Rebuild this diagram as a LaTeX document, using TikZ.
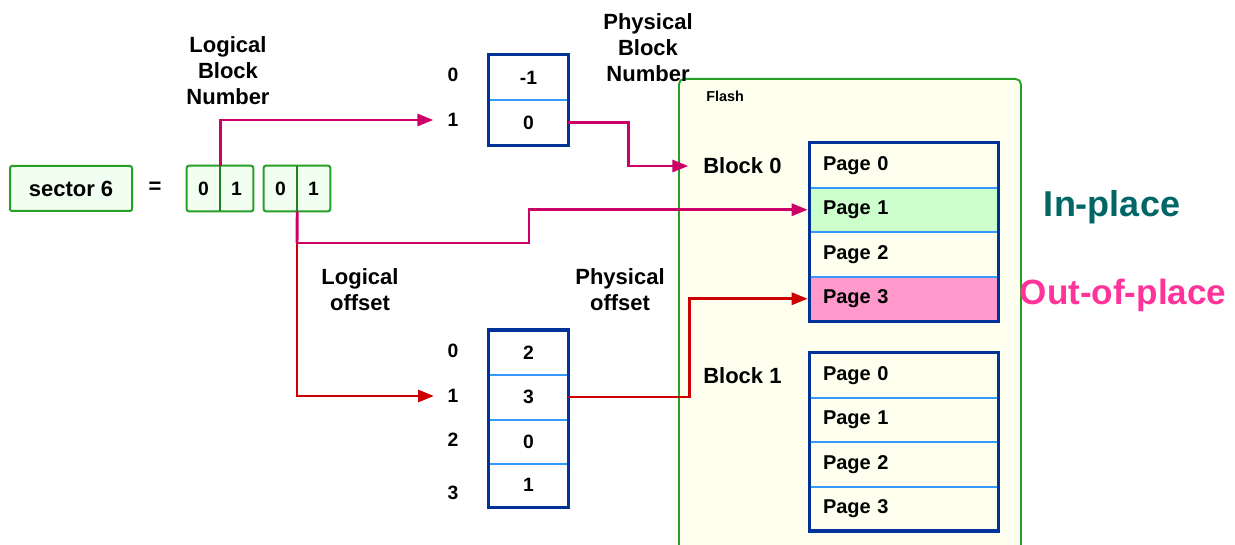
\documentclass[tikz,border=0pt]{standalone}
\usepackage{fontspec}
\setmainfont{Liberation Sans}
\usetikzlibrary{arrows.meta,calc}
\definecolor{boxgreen}{RGB}{40,160,40}
\definecolor{bitfill}{RGB}{240,255,240}
\definecolor{flashfill}{RGB}{255,255,240}
\definecolor{tblue}{RGB}{0,51,153}
\definecolor{divblue}{RGB}{51,153,255}
\definecolor{linkpink}{RGB}{204,0,102}
\definecolor{linkred}{RGB}{204,0,0}
\definecolor{inplace}{RGB}{0,102,102}
\definecolor{outplace}{RGB}{255,51,153}
\definecolor{pagegreen}{RGB}{204,255,204}
\definecolor{pagepink}{RGB}{255,153,204}
\begin{document}
\begin{tikzpicture}[x=0.75pt,y=-0.75pt,
  lbl/.style={font=\fontsize{16.5}{19.5}\selectfont\bfseries, align=center, inner sep=0pt},
  idx/.style={font=\fontsize{14.5}{17}\selectfont\bfseries, inner sep=0pt},
  cell/.style={fill=white, minimum width=59.25pt, minimum height=33.75pt, inner sep=0pt,
    font=\fontsize{14.5}{17}\selectfont\bfseries},
  cell2/.style={cell, minimum height=33.375pt},
  bit/.style={fill=bitfill, minimum width=24.75pt, minimum height=33.75pt, inner sep=0pt,
    font=\fontsize{14.5}{17}\selectfont\bfseries},
  bitbox/.style={draw=boxgreen, line width=1.5pt, rounded corners=1.5pt},
  bitdiv/.style={draw=boxgreen!80!black, line width=1.2pt},
  page/.style={fill=flashfill, minimum width=141pt, minimum height=33.375pt, text width=121.5pt,
    align=left, inner xsep=9.75pt, inner ysep=0pt, font=\fontsize{15}{17}\selectfont\bfseries},
  tborder/.style={draw=tblue, line width=2.6pt},
  tdiv/.style={draw=divblue, line width=1.5pt},
  pinklink/.style={draw=linkpink, line width=2.2pt, -{Triangle[length=12pt,width=9pt]}},
  redlink/.style={draw=linkred, line width=2.2pt, -{Triangle[length=12pt,width=9pt]}},
  flashbox/.style={draw=boxgreen, fill=flashfill, line width=1.4pt, rounded corners=4pt,
    minimum width=256.5pt, minimum height=361.5pt, inner sep=0pt, anchor=north west}
]
\clip (0,0) rectangle (1235,545);
\fill[white] (0,0) rectangle (1235,545);

% flash container
\node[flashbox] (flash) at (678,78) {};
\node[anchor=west, inner sep=0pt, font=\fontsize{10.8}{12}\selectfont\bfseries] (flashlbl) at (706,96) {Flash};

% sector and its bit fields
\node[draw=boxgreen, fill=bitfill, line width=1.5pt, rounded corners=1.5pt,
  minimum width=91.5pt, minimum height=33.75pt, inner sep=0pt, lbl] (sector) at (71,188.5) {sector 6};
\node[lbl] (eq) at (155,188) {=};
\node[bit] (b1) at (203.5,188.5) {0};
\node[bit] (b2) at (236.5,188.5) {1};
\node[bit] (b3) at (280.5,188.5) {0};
\node[bit] (b4) at (313.5,188.5) {1};
\draw[bitbox] (b1.north west) rectangle (b2.south east);
\draw[bitbox] (b3.north west) rectangle (b4.south east);
\draw[bitdiv] (b1.north east) -- (b1.south east);
\draw[bitdiv] (b3.north east) -- (b3.south east);

% headings
\node[lbl] (lbn) at (228,71) {Logical\\Block\\Number};
\node[lbl] (pbn) at (648,48) {Physical\\Block\\Number};
\node[lbl] (loff) at (360,290) {Logical\\offset};
\node[lbl] (poff) at (620,290) {Physical\\offset};

% block mapping table
\node[idx] (la0) at (453,75) {0};
\node[idx] (la1) at (453,120) {1};
\node[cell] (t1a) at (528.5,77.5) {-1};
\node[cell] (t1b) at (528.5,122.5) {0};
\draw[tdiv] (t1a.south west) -- (t1a.south east);
\draw[tborder] (t1a.north west) rectangle (t1b.south east);

% offset mapping table
\node[idx] (lo0) at (453,351) {0};
\node[idx] (lo1) at (453,396) {1};
\node[idx] (lo2) at (453,440) {2};
\node[idx] (lo3) at (453,493) {3};
\node[cell2] (t2a) at (528.5,352.5) {2};
\node[cell2] (t2b) at (528.5,397) {3};
\node[cell2] (t2c) at (528.5,441.5) {0};
\node[cell2] (t2d) at (528.5,485) {1};
\draw[tdiv] (t2a.south west) -- (t2a.south east);
\draw[tdiv] (t2b.south west) -- (t2b.south east);
\draw[tdiv] (t2c.south west) -- (t2c.south east);
\draw[tborder] (t2a.north west) rectangle (t2d.south east);

% block 0
\node[lbl, anchor=west] (blk0) at (703,166) {Block 0};
\node[page] (p00) at (904,165.25) {Page 0};
\node[page, fill=pagegreen] (p01) at (904,209.75) {Page 1};
\node[page] (p02) at (904,254.25) {Page 2};
\node[page, fill=pagepink] (p03) at (904,298.75) {Page 3};
\draw[tdiv] (p00.south west) -- (p00.south east);
\draw[tdiv] (p01.south west) -- (p01.south east);
\draw[tdiv] (p02.south west) -- (p02.south east);
\draw[tborder] (p00.north west) rectangle (p03.south east);

% block 1
\node[lbl, anchor=west] (blk1) at (703,376) {Block 1};
\node[page] (p10) at (904,375.25) {Page 0};
\node[page] (p11) at (904,419.75) {Page 1};
\node[page] (p12) at (904,464.25) {Page 2};
\node[page] (p13) at (904,508.5) {Page 3};
\draw[tdiv] (p10.south west) -- (p10.south east);
\draw[tdiv] (p11.south west) -- (p11.south east);
\draw[tdiv] (p12.south west) -- (p12.south east);
\draw[tborder] (p10.north west) rectangle (p13.south east);

% update kinds
\node[inner sep=0pt, text=inplace, font=\fontsize{27}{30}\selectfont\bfseries] (inpl) at (1112,207) {In-place};
\node[inner sep=0pt, text=outplace, font=\fontsize{26.3}{30}\selectfont\bfseries] (outpl) at (1123,295) {Out-of-place};

% connectors
\coordinate (split) at (297,243);
\draw[pinklink, shorten >=10.5pt] (b1.north east) |- (la1.west);
\draw[pinklink, shorten >=11pt] (t1b.east) -- ++(60,0) |- (blk0.west);
\draw[redlink, shorten >=10pt] (split) |- (lo1.west);
\draw[pinklink, -] (b3.south east) -- (split);
\draw[pinklink, shorten >=1.5pt] (split) -- ++(232,0) |- (p01.west);
\draw[redlink, shorten >=1.5pt] (t2b.east) -- ++(121,0) |- (p03.west);
\end{tikzpicture}
\end{document}
